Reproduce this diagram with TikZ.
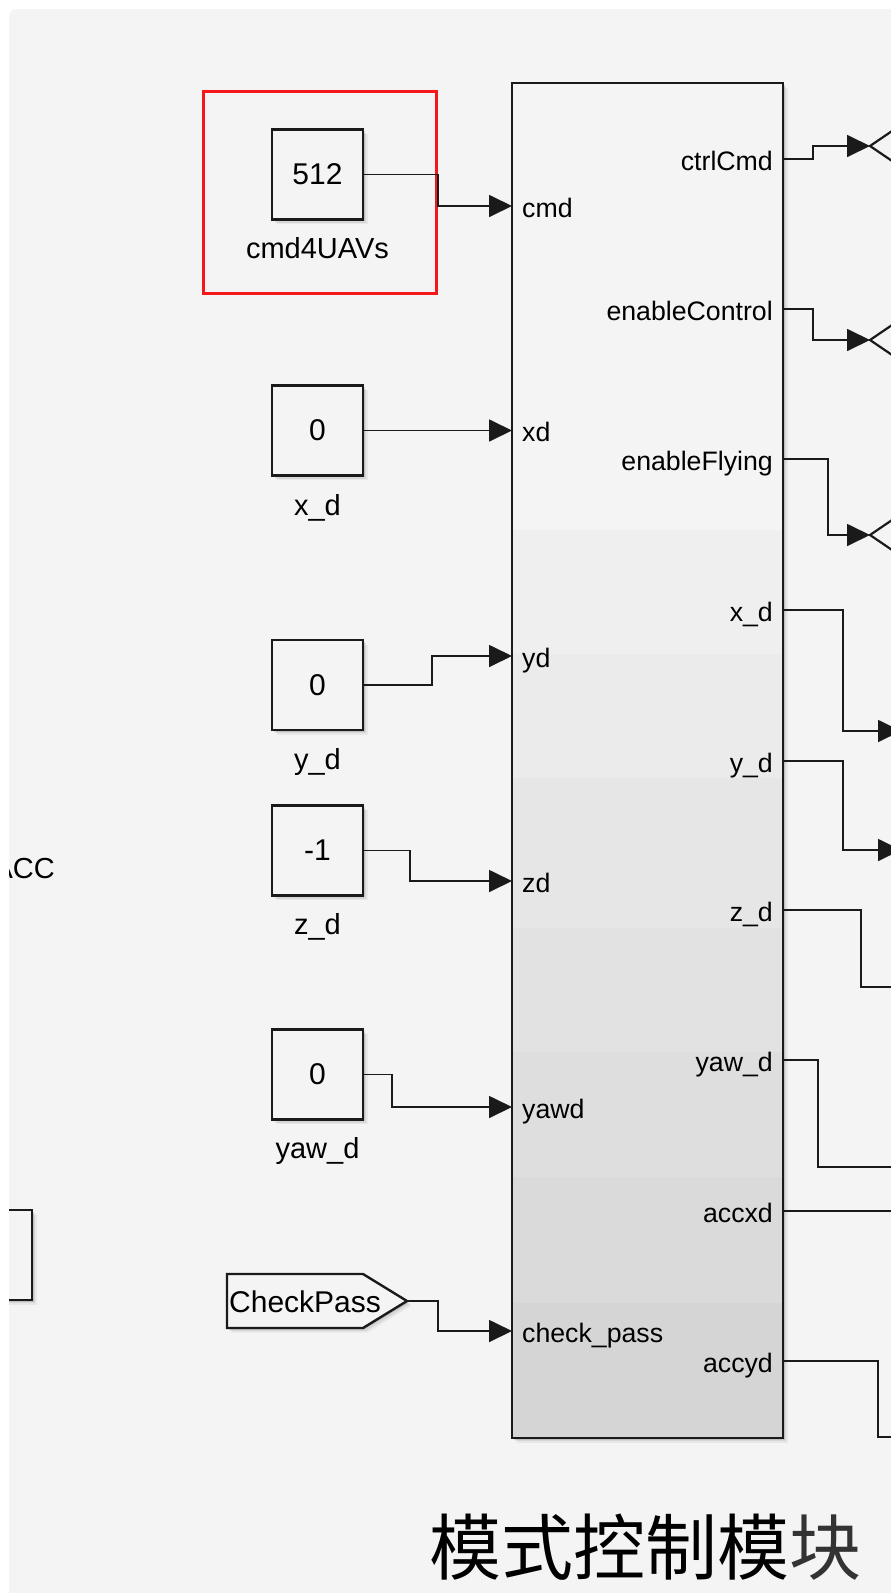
\documentclass[tikz,border=0pt]{standalone}
\usepackage{fontspec}
\setmainfont{Liberation Sans}
\newfontfamily\cjk{Noto Sans CJK SC}
\usetikzlibrary{arrows.meta,shadows}
\definecolor{bgc}{HTML}{F4F4F4}
\definecolor{ink}{HTML}{1A1A1A}
\definecolor{hlred}{HTML}{F5181B}
\begin{document}
\begin{tikzpicture}[x=1pt,y=-1pt,
  shad/.style={general shadow={fill=black,opacity=0.10,shadow xshift=1.5pt,shadow yshift=-1.5pt},
               general shadow={fill=black,opacity=0.07,shadow xshift=3pt,shadow yshift=-3pt},
               general shadow={fill=black,opacity=0.05,shadow xshift=4.5pt,shadow yshift=-4.5pt}},
  blk/.style={draw=ink,line width=2.4pt,fill=bgc,shad,rectangle,inner sep=0pt,outer sep=0pt},
  constblk/.style={blk,minimum width=91pt,minimum height=90pt,font=\fontsize{30}{32}\selectfont},
  bname/.style={anchor=base,inner sep=0pt,font=\fontsize{29}{32}\selectfont},
  plab/.style={inner sep=0pt,font=\fontsize{26.7}{30}\selectfont},
  sig/.style={draw=ink,line width=1.8pt},
  sigarr/.style={sig,-{Triangle[length=23pt,width=22pt]}},
  gotoline/.style={draw=ink,line width=2.2pt},
]
\useasboundingbox (0,0) rectangle (891,1593);
\fill[white] (0,0) rectangle (891,1593);
\begin{scope}
\clip[rounded corners=8pt] (9,9) rectangle (960,1660);
\fill[bgc] (9,9) rectangle (960,1660);

% left partial block and text
\node[blk,minimum width=100pt,minimum height=90pt] (lblk) at (-18,1255) {};
\node[bname,anchor=base east] (acc) at (55,878) {ACC};

% highlight box
\node[draw=hlred,line width=3pt,minimum width=233pt,minimum height=202pt,inner sep=0pt,outer sep=0pt] (hl) at (319.5,192) {};

% constant blocks
\node[constblk] (c512) at (317.5,174.5) {512};
\node[bname] (n512) at (317.5,258) {cmd4UAVs};
\node[constblk] (cx) at (317.5,430.5) {0};
\node[bname] (nx) at (317.5,515) {x\_d};
\node[constblk] (cy) at (317.5,685) {0};
\node[bname] (ny) at (317.5,769) {y\_d};
\node[constblk] (cz) at (317.5,850.5) {-1};
\node[bname] (nz) at (317.5,934) {z\_d};
\node[constblk] (cyaw) at (317.5,1074.5) {0};
\node[bname] (nyaw) at (317.5,1158) {yaw\_d};

% From tag
\draw[blk] (227,1274) -- (363,1274) -- (407,1301) -- (363,1328) -- (227,1328) -- cycle;
\coordinate (tag) at (407,1301);
\node[anchor=base west,inner sep=0pt,font=\fontsize{30}{32}\selectfont] (tagtxt) at (229,1312) {CheckPass};

% main block
\node[blk,fill=bgc,minimum width=271pt,minimum height=1355pt] (main) at (647.5,760.5) {};
\fill[color={rgb,255:red,239;green,239;blue,239}] (513,530) rectangle (782,654);
\fill[color={rgb,255:red,235;green,235;blue,235}] (513,654) rectangle (782,778);
\fill[color={rgb,255:red,230;green,230;blue,230}] (513,778) rectangle (782,928);
\fill[color={rgb,255:red,226;green,226;blue,226}] (513,928) rectangle (782,1052);
\fill[color={rgb,255:red,222;green,222;blue,222}] (513,1052) rectangle (782,1177);
\fill[color={rgb,255:red,218;green,218;blue,218}] (513,1177) rectangle (782,1303);
\fill[color={rgb,255:red,213;green,213;blue,213}] (513,1303) rectangle (782,1437);
\draw[ink,line width=2.4pt] (main.north west) rectangle (main.south east);

% input ports
\coordinate (i-cmd) at (main.west |- 0,206);
\coordinate (i-xd) at (main.west |- 0,430.5);
\coordinate (i-yd) at (main.west |- 0,656);
\coordinate (i-zd) at (main.west |- 0,881);
\coordinate (i-yawd) at (main.west |- 0,1107);
\coordinate (i-chk) at (main.west |- 0,1331);
\node[plab,anchor=base west] (l-cmd) at (522,217) {cmd};
\node[plab,anchor=base west] (l-xd) at (522,441) {xd};
\node[plab,anchor=base west] (l-yd) at (522,667) {yd};
\node[plab,anchor=base west] (l-zd) at (522,892) {zd};
\node[plab,anchor=base west] (l-yawd) at (522,1118) {yawd};
\node[plab,anchor=base west] (l-chk) at (522,1342) {check\_pass};

% output ports
\coordinate (o-ctrl) at (main.east |- 0,159);
\coordinate (o-enc) at (main.east |- 0,309);
\coordinate (o-enf) at (main.east |- 0,459);
\coordinate (o-xd) at (main.east |- 0,610);
\coordinate (o-yd) at (main.east |- 0,761);
\coordinate (o-zd) at (main.east |- 0,910);
\coordinate (o-yaw) at (main.east |- 0,1060);
\coordinate (o-ax) at (main.east |- 0,1211);
\coordinate (o-ay) at (main.east |- 0,1361);
\node[plab,anchor=base east] (r-ctrl) at (773,170) {ctrlCmd};
\node[plab,anchor=base east] (r-enc) at (773,320) {enableControl};
\node[plab,anchor=base east] (r-enf) at (773,470) {enableFlying};
\node[plab,anchor=base east] (r-xd) at (773,621) {x\_d};
\node[plab,anchor=base east] (r-yd) at (773,772) {y\_d};
\node[plab,anchor=base east] (r-zd) at (773,921) {z\_d};
\node[plab,anchor=base east] (r-yaw) at (773,1071) {yaw\_d};
\node[plab,anchor=base east] (r-ax) at (773,1222) {accxd};
\node[plab,anchor=base east] (r-ay) at (773,1372) {accyd};

% input connectors
\draw[sigarr] (c512.east) -| (438,206) -- (i-cmd);
\draw[sigarr] (cx.east) -- (i-xd);
\draw[sigarr] (cy.east) -| (432,656) -- (i-yd);
\draw[sigarr] (cz.east) -| (410,881) -- (i-zd);
\draw[sigarr] (cyaw.east) -| (392,1107) -- (i-yawd);
\draw[sigarr] (tag) -| (438,1331) -- (i-chk);

% goto tags (partially visible)
\coordinate (g1) at (870,146);
\coordinate (g2) at (870,340);
\coordinate (g3) at (870,535);
\foreach \g in {g1,g2,g3}{
  \draw[gotoline] ([shift={(25,-17)}]\g) -- (\g) -- ([shift={(25,17)}]\g);
}
\coordinate (t-xd) at (901,731);
\coordinate (t-yd) at (901,850);
\coordinate (t-zd) at (960,987);
\coordinate (t-yaw) at (960,1167);
\coordinate (t-ax) at (960,1211);
\coordinate (t-ay) at (960,1437);

% output connectors
\draw[sigarr] (o-ctrl) -| (813,146) -- (g1);
\draw[sigarr] (o-enc) -| (813,340) -- (g2);
\draw[sigarr] (o-enf) -| (828,535) -- (g3);
\draw[sigarr] (o-xd) -| (843,731) -- (t-xd);
\draw[sigarr] (o-yd) -| (843,850) -- (t-yd);
\draw[sig] (o-zd) -| (861,987) -- (t-zd);
\draw[sig] (o-yaw) -| (818,1167) -- (t-yaw);
\draw[sig] (o-ax) -- (t-ax);
\draw[sig] (o-ay) -| (878,1437) -- (t-ay);

% title
\node[anchor=base,inner sep=0pt] (title) at (645,1574) {\cjk\fontsize{72}{80}\selectfont 模式控制模\textcolor{black!80}{块}};
\end{scope}
\end{tikzpicture}
\end{document}
